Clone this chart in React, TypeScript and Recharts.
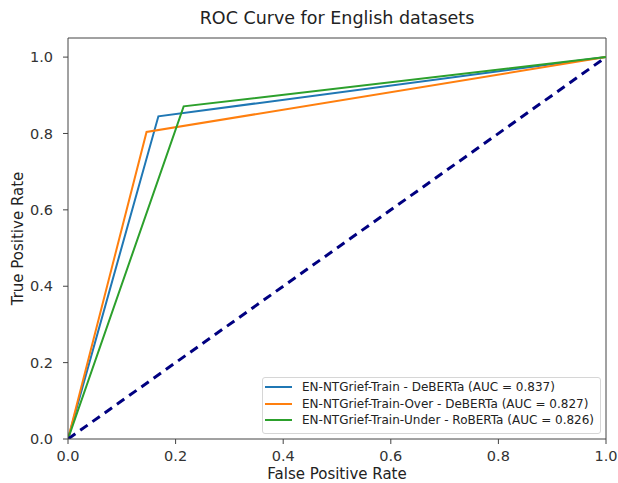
import React from 'react';
import { LineChart, Line, XAxis, YAxis, ReferenceLine } from 'recharts';

const seriesNames = [
  'EN-NTGrief-Train - DeBERTa (AUC = 0.837)',
  'EN-NTGrief-Train-Over - DeBERTa (AUC = 0.827)',
  'EN-NTGrief-Train-Under - RoBERTa (AUC = 0.826)',
];
const seriesColors = ['#1f77b4', '#ff7f0e', '#2ca02c'];

const fprDeberta = [0, 0.168, 1];
const tprDeberta = [0, 0.845, 1];
const fprOver = [0, 0.146, 1];
const tprOver = [0, 0.804, 1];
const fprUnder = [0, 0.215, 1];
const tprUnder = [0, 0.871, 1];
const chanceX = [0, 1];
const chanceY = [0, 1];

const ticks = [0, 0.2, 0.4, 0.6, 0.8, 1.0];

const toPoints = (xs: number[], ys: number[]) => xs.map((x, i) => ({ x, y: ys[i] }));

const curves = [
  toPoints(fprDeberta, tprDeberta),
  toPoints(fprOver, tprOver),
  toPoints(fprUnder, tprUnder),
];

const font = 'DejaVu Sans, sans-serif';

export default function App() {
  return (
    <div style={{ position: 'absolute', left: 0, top: 0, width: 618, height: 483, background: '#fff' }}>
      <div
        style={{
          position: 'absolute',
          left: 68,
          width: 538,
          top: 8,
          textAlign: 'center',
          fontFamily: font,
          fontSize: 17.5,
          color: '#222',
        }}
      >
        ROC Curve for English datasets
      </div>
      <LineChart width={618} height={483} margin={{ top: 38, right: 12, left: 0, bottom: 0 }}>
        <XAxis
          type="number"
          dataKey="x"
          domain={[0, 1]}
          ticks={ticks}
          tickFormatter={(v: number) => v.toFixed(1)}
          allowDataOverflow
          height={44}
          stroke="#444"
          tickSize={5}
          tickMargin={7}
          tick={{ fill: '#333', fontSize: 14.5, fontFamily: font }}
          label={{ value: 'False Positive Rate', position: 'insideBottom', offset: 4, fill: '#222', fontSize: 15, fontFamily: font }}
        />
        <YAxis
          type="number"
          dataKey="y"
          domain={[0, 1.05]}
          ticks={ticks}
          tickFormatter={(v: number) => v.toFixed(1)}
          allowDataOverflow
          width={68}
          stroke="#444"
          tickSize={5}
          tickMargin={10}
          tick={{ fill: '#333', fontSize: 14.5, fontFamily: font }}
          label={{ value: 'True Positive Rate', angle: -90, position: 'insideLeft', offset: 18, fill: '#222', fontSize: 15, fontFamily: font, style: { textAnchor: 'middle' } }}
        />
        <ReferenceLine y={1.05} stroke="#444" />
        <ReferenceLine x={1} stroke="#444" />
        {curves.map((pts, i) => (
          <Line
            key={seriesNames[i]}
            data={pts}
            dataKey="y"
            type="linear"
            stroke={seriesColors[i]}
            strokeWidth={2}
            dot={false}
            activeDot={false}
            isAnimationActive={false}
          />
        ))}
        <Line
          data={toPoints(chanceX, chanceY)}
          dataKey="y"
          type="linear"
          stroke="#000080"
          strokeWidth={3}
          strokeDasharray="9 6"
          dot={false}
          activeDot={false}
          isAnimationActive={false}
        />
      </LineChart>
      <div
        style={{
          position: 'absolute',
          left: 262,
          top: 377,
          border: '1px solid #d6d6d6',
          borderRadius: 3,
          background: '#fff',
          padding: '1px 6px 4px 2px',
          fontFamily: font,
          fontSize: 12,
          color: '#222',
          whiteSpace: 'nowrap',
        }}
      >
        {seriesNames.map((name, i) => (
          <div key={name} style={{ display: 'flex', alignItems: 'center', height: 16.5 }}>
            <span style={{ display: 'inline-block', width: 27, height: 2, background: seriesColors[i], marginRight: 10 }} />
            <span>{name}</span>
          </div>
        ))}
      </div>
    </div>
  );
}
